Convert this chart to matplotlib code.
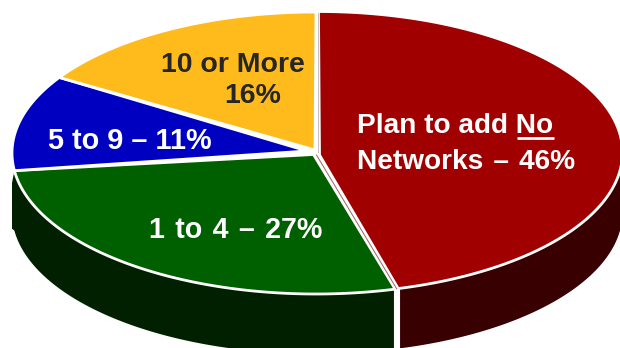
import numpy as np
from matplotlib import pyplot as plt
from matplotlib.patches import Polygon

labels = ['Plan to add No', 'Networks – 46%', '1 to 4 – 27%', '5 to 9 – 11%', '10 or More', '16%']
shares = [46, 27, 11, 16]
top_colors = ['#A00000', '#006000', '#0000C0', '#FFBB1C']
side_colors = ['#380000', '#002000']

# pie drawn in pixel coordinates, squashed into an ellipse
CX, CY = 316, 153
RX, RY = 304, 141
DEPTH = 60
rim_shift = [(2.5, -0.5), (0, 0), (0, 0), (0, 0)]
apex = [(319.5, 155), (313.5, 154.5), (307, 151), (315, 150)]
# small angle trims either side of the seam at the red slice
trim_start = [0, -0.7, 0, 0]
trim_end = [-0.8, 0, 0, 0]


def rim(a0, a1, dx=0, dy=0):
    # angles run clockwise from 12 o'clock
    t = np.radians(np.linspace(a0, a1, 200))
    return np.column_stack((CX + dx + RX * np.sin(t), CY + dy - RY * np.cos(t)))


def spaced(s):
    # a little extra room between the words
    return s.replace(' ', ' \u200a')


fig = plt.figure(figsize=(6.2, 3.48), dpi=100)
ax = fig.add_axes([0, 0, 1, 1])
ax.set_xlim(0, 620)
ax.set_ylim(348, 0)
ax.axis('off')

edges = np.cumsum([0] + shares) * 3.6

# walls for the two slices that face the viewer
red_upper = rim(90, edges[1], *rim_shift[0])
ax.add_patch(Polygon(np.vstack((red_upper, (red_upper + [0, DEPTH])[::-1])), closed=True,
                     fc=side_colors[0], ec='none', zorder=1))
green_upper = rim(edges[1] - 1, edges[2])
green_lower = green_upper + [0, DEPTH]
green_wall = np.vstack((green_upper, [[12, 183], [12, green_lower[-1, 1] - 2]], green_lower[::-1]))
ax.add_patch(Polygon(green_wall, closed=True, fc=side_colors[1], ec='none', zorder=1))

# gap between the two walls
ax.plot([397, 397], [285, 348], color='white', lw=4.4, zorder=2, solid_capstyle='butt')

corners = []
for i in range(len(shares)):
    dx, dy = rim_shift[i]
    arc = rim(edges[i] + trim_start[i], edges[i + 1] + trim_end[i], dx, dy)
    corners.append((arc[0], arc[-1]))
    pts = np.vstack((apex[i], arc))
    ax.add_patch(Polygon(pts, closed=True, fc=top_colors[i], ec='white', lw=2.0,
                         joinstyle='miter', zorder=3))

# thin cut face of the red slice along the white seam
seam_end = (corners[0][1] + corners[1][0]) / 2
ax.plot([apex[0][0] - 3, seam_end[0]], [apex[0][1], seam_end[1]], color='#A06060', lw=0.7, zorder=4)
ax.plot([317.5, 317.5], [13, 152], color='#C8C0C0', lw=0.7, zorder=4)

font = dict(family='Liberation Sans', fontweight='bold', va='baseline', ha='left', zorder=5)
ax.text(357, 133, labels[0], color='white', fontsize=20.2, **font)
ax.text(357, 169, labels[1].replace(' – ', ' \u200a–\u200a '), color='white', fontsize=20.2, **font)
ax.plot([517, 554], [137.7, 137.7], color='white', lw=2, zorder=5, solid_capstyle='butt')
ax.text(149, 238, spaced(labels[2]), color='white', fontsize=20.6, **font)
ax.text(48, 149, labels[3], color='white', fontsize=20.8, **font)
ax.text(161, 72, labels[4], color='#262626', fontsize=20.5, **font)
ax.text(224, 103, labels[5], color='#262626', fontsize=20.5, **font)

fig.savefig('out.png', dpi=100)
